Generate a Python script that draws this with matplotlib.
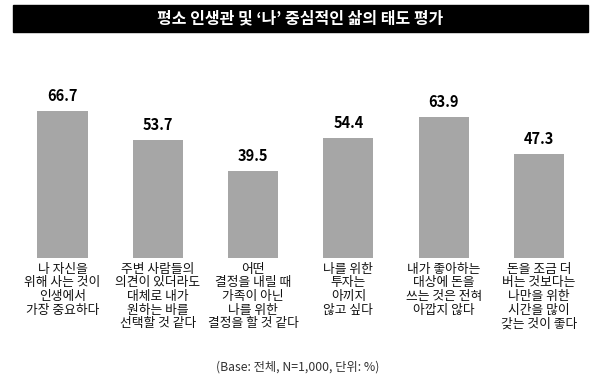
import matplotlib
matplotlib.use("Agg")
import matplotlib.pyplot as plt
from matplotlib.patches import Rectangle

plt.rcParams['font.family'] = ['Noto Sans CJK KR', 'DejaVu Sans']

title = "평소 인생관 및 ‘나’ 중심적인 삶의 태도 평가"
labels = [
    "나 자신을\n위해 사는 것이\n인생에서\n가장 중요하다",
    "주변 사람들의\n의견이 있더라도\n대체로 내가\n원하는 바를\n선택할 것 같다",
    "어떤\n결정을 내릴 때\n가족이 아닌\n나를 위한\n결정을 할 것 같다",
    "나를 위한\n투자는\n아끼지\n않고 싶다",
    "내가 좋아하는\n대상에 돈을\n쓰는 것은 전혀\n아깝지 않다",
    "돈을 조금 더\n버는 것보다는\n나만을 위한\n시간을 많이\n갖는 것이 좋다",
]
values = [66.7, 53.7, 39.5, 54.4, 63.9, 47.3]
note = "(Base: 전체, N=1,000, 단위: %)"

W, H = 600, 384
fig = plt.figure(figsize=(6, 3.84), dpi=100)

# title bar
fig.patches.append(Rectangle((13 / W, 1 - 32 / H), 575 / W, 27 / H,
                             transform=fig.transFigure, color="black", zorder=0))
fig.text(300 / W, 1 - 18.5 / H, title, color="white", fontsize=11.5,
         fontweight="bold", ha="center", va="center")

# plot area: baseline at y=258px, 2.2 px per unit
ax = fig.add_axes([14.85 / W, (H - 258) / H, 571.8 / W, 168 / H])
x = list(range(len(values)))
ax.bar(x, values, width=0.525, color="#a6a6a6")
ax.set_xlim(-0.5, 5.5)
ax.set_ylim(0, 168 / 2.2)
ax.axis("off")

for xi, v in zip(x, values):
    ax.annotate(f"{v:.1f}", (xi, v), xytext=(0, 5), textcoords="offset points",
                ha="center", va="bottom", fontsize=10.5, fontweight="bold")
    ax.annotate(labels[xi], (xi, 0), xytext=(0, -3.5), textcoords="offset points",
                ha="center", va="top", fontsize=9.2, linespacing=1.06,
                color="#111111", fontweight="medium")

fig.text(298 / W, 1 - 367 / H, note, fontsize=8.8, ha="center", va="center",
         color="#333333")

fig.savefig("out.png", dpi=100)
